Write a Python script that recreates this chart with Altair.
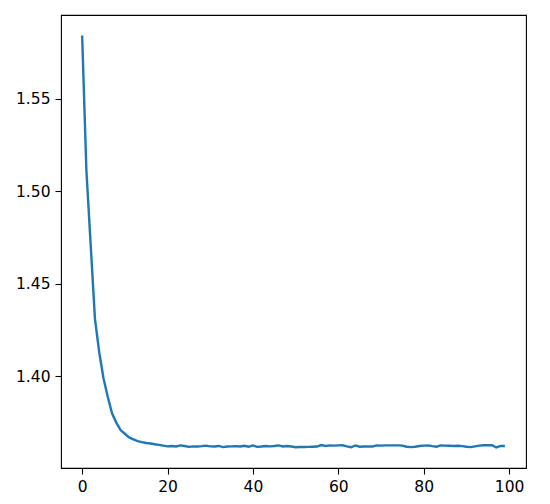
import altair as alt
import pandas as pd

epochs = list(range(100))
loss = [
    1.584, 1.511, 1.471, 1.431, 1.413, 1.399, 1.389, 1.380, 1.375, 1.371,
    1.369, 1.367, 1.366, 1.365, 1.3645, 1.364, 1.3637, 1.3633, 1.3630, 1.3626,
    1.3622, 1.3624, 1.3621, 1.3627, 1.3624, 1.3619, 1.3622, 1.3621, 1.3623, 1.3626,
    1.3622, 1.3621, 1.3624, 1.3618, 1.3621, 1.3622, 1.3623, 1.3621, 1.3625, 1.3620,
    1.3627, 1.3619, 1.3621, 1.3624, 1.3622, 1.3624, 1.3627, 1.3621, 1.3624, 1.3621,
    1.3617, 1.3618, 1.3618, 1.3619, 1.3620, 1.3621, 1.3629, 1.3624, 1.3627, 1.3626,
    1.3627, 1.3628, 1.3622, 1.3617, 1.3627, 1.3620, 1.3621, 1.3621, 1.3621, 1.3627,
    1.3626, 1.3627, 1.3627, 1.3627, 1.3627, 1.3626, 1.3620, 1.3618, 1.3620, 1.3624,
    1.3626, 1.3627, 1.3623, 1.3620, 1.3627, 1.3626, 1.3625, 1.3624, 1.3625, 1.3623,
    1.3620, 1.3618, 1.3622, 1.3626, 1.3628, 1.3628, 1.3628, 1.3616, 1.3624, 1.3624,
]
x_ticks = [0, 20, 40, 60, 80, 100]
y_ticks = [1.40, 1.45, 1.50, 1.55]

df = pd.DataFrame({"epoch": epochs, "loss": loss})

axis_common = dict(
    grid=False,
    domain=False,
    tickColor="black",
    tickSize=6,
    tickWidth=1.1,
    labelColor="black",
    labelFont="DejaVu Sans",
    labelFontSize=15.5,
    labelPadding=5,
    title=None,
)

chart = alt.Chart(df).mark_line(color="#1f77b4", strokeWidth=2.4).encode(
    x=alt.X("epoch:Q",
            scale=alt.Scale(domain=[-4.95, 103.95], nice=False, zero=False),
            axis=alt.Axis(values=x_ticks, format="d", **axis_common)),
    y=alt.Y("loss:Q",
            scale=alt.Scale(domain=[1.3505, 1.5951], nice=False, zero=False),
            axis=alt.Axis(values=y_ticks, format=".2f", **axis_common)),
).properties(
    width=465,
    height=453,
    autosize=alt.AutoSizeParams(type="none"),
    padding={"left": 53, "top": 7, "right": 16, "bottom": 29},
).configure_view(
    stroke="black",
    strokeWidth=1.1,
)

chart.save("out.html", embed_options={"renderer": "svg", "actions": False})
